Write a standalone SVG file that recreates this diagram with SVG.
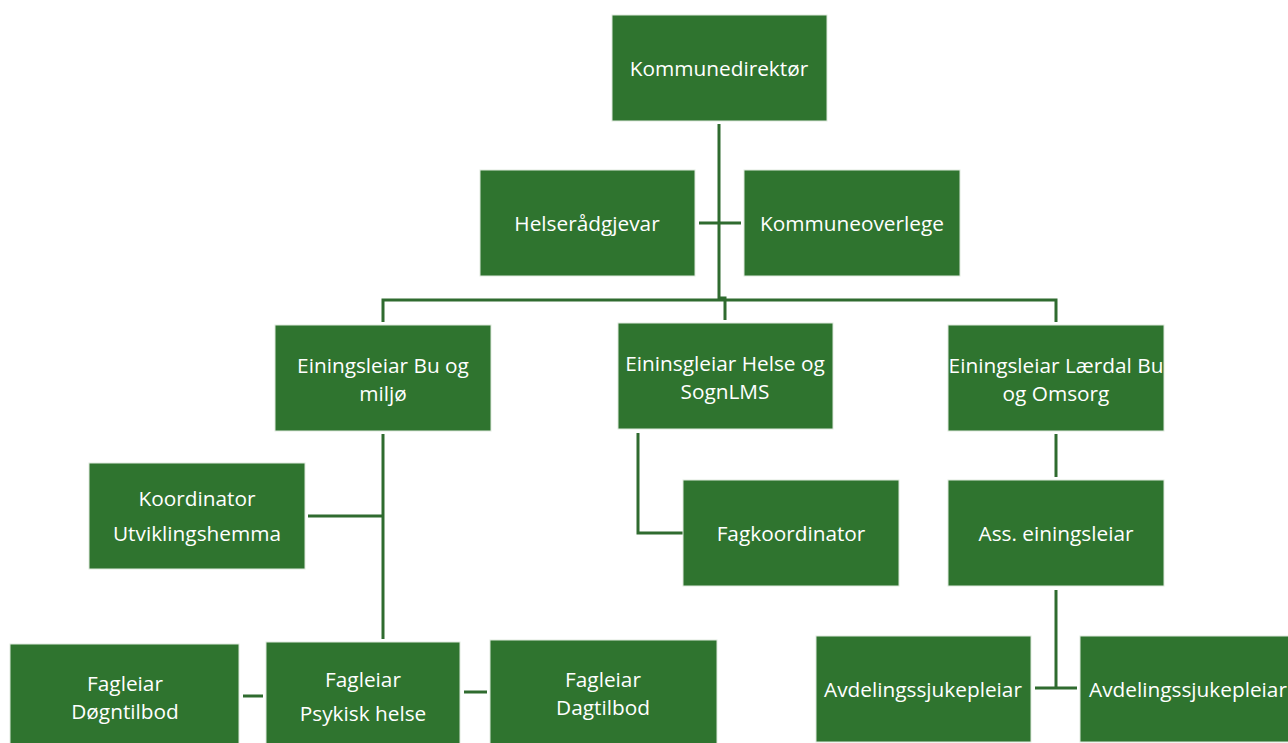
<svg xmlns="http://www.w3.org/2000/svg" width="1288" height="743" viewBox="0 0 1288 743">
<style>
.box{fill:#2f742f;stroke:#dfe9de;stroke-width:1}
.t{font-family:"Open Sans","Liberation Sans",sans-serif;font-size:20.8px;fill:#ffffff;text-anchor:middle;dominant-baseline:central}
.ln{fill:none;stroke:#2f6b2f;stroke-width:3}
</style>
<rect width="1288" height="743" fill="#ffffff"/>
<g id="connectors">
<path class="ln" d="M719 124 V298 H725 V320"/>
<path class="ln" d="M383 322 V300 H1056 V322"/>
<path class="ln" d="M699 223 H741"/>
<path class="ln" d="M383 434 V639"/>
<path class="ln" d="M308 516 H383"/>
<path class="ln" d="M638 433 V533 H683"/>
<path class="ln" d="M1056 434 V477"/>
<path class="ln" d="M1056 590 V688"/>
<path class="ln" d="M1035 688 H1077"/>
<path class="ln" d="M243 696 H263"/>
<path class="ln" d="M464 692 H487"/>
</g>
<g id="n-kommunedirektor"><rect class="box" x="612" y="15" width="215" height="106"/><text class="t" x="719" y="68">Kommunedirektør</text></g>
<g id="n-helseradgjevar"><rect class="box" x="480" y="170" width="215" height="106"/><text class="t" x="587" y="223">Helserådgjevar</text></g>
<g id="n-kommuneoverlege"><rect class="box" x="744" y="170" width="216" height="106"/><text class="t" x="852" y="223">Kommuneoverlege</text></g>
<g id="n-bu-miljo"><rect class="box" x="275" y="325" width="216" height="106"/><text class="t" x="383" y="365">Einingsleiar Bu og</text><text class="t" x="383" y="393">miljø</text></g>
<g id="n-helse-sognlms"><rect class="box" x="618" y="323" width="215" height="106"/><text class="t" x="725" y="363">Eininsgleiar Helse og</text><text class="t" x="725" y="391">SognLMS</text></g>
<g id="n-laerdal"><rect class="box" x="948" y="325" width="216" height="106"/><text class="t" x="1056" y="365">Einingsleiar Lærdal Bu</text><text class="t" x="1056" y="393">og Omsorg</text></g>
<g id="n-koordinator"><rect class="box" x="89" y="463" width="216" height="106"/><text class="t" x="197" y="498">Koordinator</text><text class="t" x="197" y="533">Utviklingshemma</text></g>
<g id="n-fagkoordinator"><rect class="box" x="683" y="480" width="216" height="106"/><text class="t" x="791" y="533">Fagkoordinator</text></g>
<g id="n-ass"><rect class="box" x="948" y="480" width="216" height="106"/><text class="t" x="1056" y="533">Ass. einingsleiar</text></g>
<g id="n-dogntilbod"><rect class="box" x="10" y="644" width="229" height="106"/><text class="t" x="125" y="683">Fagleiar</text><text class="t" x="125" y="711">Døgntilbod</text></g>
<g id="n-psykisk"><rect class="box" x="266" y="642" width="194" height="106"/><text class="t" x="363" y="679">Fagleiar</text><text class="t" x="363" y="713">Psykisk helse</text></g>
<g id="n-dagtilbod"><rect class="box" x="490" y="640" width="227" height="106"/><text class="t" x="603" y="679">Fagleiar</text><text class="t" x="603" y="707">Dagtilbod</text></g>
<g id="n-avd1"><rect class="box" x="816" y="636" width="215" height="106"/><text class="t" x="923" y="689">Avdelingssjukepleiar</text></g>
<g id="n-avd2"><rect class="box" x="1080" y="636" width="216" height="106"/><text class="t" x="1188" y="689">Avdelingssjukepleiar</text></g>
</svg>
